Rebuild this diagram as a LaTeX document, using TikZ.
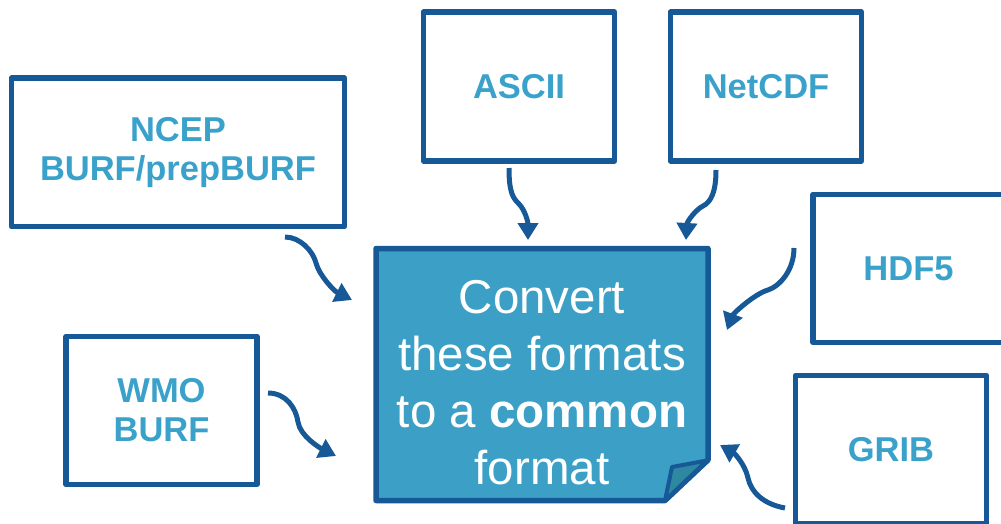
\documentclass[tikz,border=0pt]{standalone}
\usepackage{fontspec}
\setmainfont{Liberation Sans}
\usetikzlibrary{arrows.meta,calc}
\definecolor{bdr}{HTML}{175896}
\definecolor{txt}{HTML}{3AA2CA}
\definecolor{fillc}{HTML}{3C9FC6}
\definecolor{flapc}{HTML}{2F88A2}
\tikzset{
  fmtbox/.style={draw=bdr, line width=5.5pt, rectangle, outer sep=0pt, inner sep=0pt,
    align=center, text=txt, font=\fontsize{34.5}{39}\selectfont\bfseries, line join=round},
  arr/.style={draw=bdr, line width=5pt, -{Triangle[length=17pt,width=20pt]}},
  maintext/.style={text=white, align=center, inner sep=0pt, font=\fontsize{47.5}{57}\selectfont}
}
\begin{document}
\begin{tikzpicture}[x=1pt,y=-1pt]
\useasboundingbox (0,0) rectangle (1001,524);
\clip (0,0) rectangle (1001,524);

% format boxes
\node[fmtbox, minimum width=333pt, minimum height=148.5pt] (ncep) at (178,152.25) {NCEP\\BURF/prepBURF};
\node[fmtbox, minimum width=191pt, minimum height=149pt] (ascii) at (519,86.5) {ASCII};
\node[fmtbox, minimum width=191pt, minimum height=149pt] (netcdf) at (766,86.5) {NetCDF};
\node[fmtbox, minimum width=191pt, minimum height=148pt] (hdf5) at (908.5,268.5) {HDF5};
\node[fmtbox, minimum width=191pt, minimum height=148pt] (wmo) at (161.5,410.5) {WMO\\BURF};
\node[fmtbox, minimum width=191pt, minimum height=148.5pt] (grib) at (891,449.75) {GRIB};

% central box
\node[rectangle, outer sep=0pt, inner sep=0pt, minimum width=332pt, minimum height=252pt] (conv) at (542,374.5) {};
\filldraw[fill=fillc, draw=bdr, line width=5.5pt, line join=round]
  (conv.north west) -- (conv.north east) -- ($(conv.south east)+(0,-40.5)$)
  -- ($(conv.south east)+(-43,0)$) -- (conv.south west) -- cycle;
\filldraw[fill=flapc, draw=bdr, line width=4pt, line join=round]
  ($(conv.south east)+(-1,-40)$) -- ($(conv.south east)+(-36,-33.5)$) -- ($(conv.south east)+(-43,0)$) -- cycle;
\node[maintext, anchor=north] (convtext) at (542,280) {Convert\\these formats\\to a \textbf{common}\\format};

% connectors
\draw[arr] ($(ascii.south)+(-10,7)$) .. controls +(0,25) and +(-6,-6) .. ++(10,36)
  .. controls +(6,6) and +(0,-18) .. ($(conv.north)+(-14,-8.5)$);
\draw[arr] ($(netcdf.south)+(-50,9)$) .. controls +(0,22) and +(8,-4) .. ++(-13,36)
  .. controls +(-8,4) and +(1,-18) .. ($(conv.north east)+(-22,-8.5)$);
\draw[arr] ($(ncep.south east)+(-59.5,10.5)$) .. controls +(15,0) and +(-3,-12) .. ++(31,26)
  .. controls +(3,12) and +(-18,-9) .. ($(conv.north west)+(-24,51.5)$);
\draw[arr] ($(wmo.east)+(11,-17.5)$) .. controls +(18,0) and +(-2,-14) .. ++(30,29)
  .. controls +(2,14) and +(-16,-8) .. ($(conv.south west)+(-40,-44.5)$);
\draw[arr] ($(hdf5.west)+(-19,-20.5)$) .. controls +(0,22) and +(12,-4) .. ++(-26,42)
  .. controls +(-14,4) and +(6,-16) .. ($(conv.east)+(19,-44.5)$);
\draw[arr] ($(grib.south west)+(-10.5,-16)$) .. controls +(-22,-4) and +(3,14) .. ++(-37,-30)
  .. controls +(-3,-14) and +(14,8) .. ($(conv.south east)+(12,-55.5)$);
\end{tikzpicture}
\end{document}
